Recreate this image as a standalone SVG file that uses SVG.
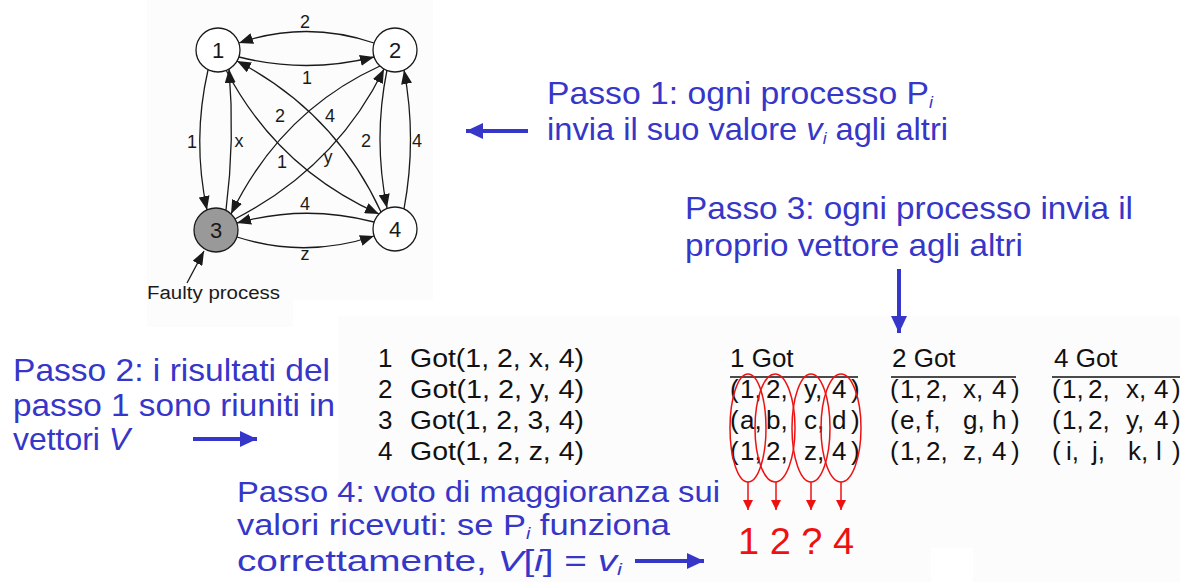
<svg xmlns="http://www.w3.org/2000/svg" width="1180" height="582" viewBox="0 0 1180 582">
  <style>
    .note { font-family: "Liberation Sans", Arial, sans-serif; font-size: 32px; fill: #3636c8; }
    .wide { font-size: 30px; }
    .sub { font-size: 17px; font-style: italic; }
    .it { font-style: italic; }
    .tbl { font-family: "Liberation Sans", Arial, sans-serif; font-size: 26px; fill: #111; }
    .glabel { font-family: "Liberation Sans", Arial, sans-serif; font-size: 18px; fill: #1a1a1a; text-anchor: middle; }
    .nlabel { font-family: "Liberation Sans", Arial, sans-serif; font-size: 22px; fill: #1a1a1a; text-anchor: middle; }
    .node { stroke: #1a1a1a; stroke-width: 1.3; fill: #fff; }
    .edge { fill: none; stroke: #1a1a1a; stroke-width: 1.3; marker-end: url(#ah); }
    .blue { stroke: #3636c8; stroke-width: 4; fill: none; marker-end: url(#bh); }
    .red { stroke: #ee1111; stroke-width: 1.5; fill: none; }
    .redarr { stroke: #ee1111; stroke-width: 1.5; marker-end: url(#rh); }
  </style>
  <defs>
    <marker id="ah" markerUnits="userSpaceOnUse" markerWidth="15" markerHeight="11" refX="14" refY="5.5" orient="auto">
      <path d="M0,0 L14,5.5 L0,11 Z" fill="#1a1a1a"/>
    </marker>
    <marker id="bh" markerUnits="userSpaceOnUse" markerWidth="18" markerHeight="16" refX="17" refY="8" orient="auto">
      <path d="M0,0 L17,8 L0,16 Z" fill="#3636c8"/>
    </marker>
    <marker id="rh" markerUnits="userSpaceOnUse" markerWidth="10" markerHeight="10" refX="10" refY="5" orient="auto">
      <path d="M0,0 L10,5 L0,10 Z" fill="#ee1111"/>
    </marker>
  </defs>

  <!-- page background with the lightly tinted figure panels -->
  <rect x="0" y="0" width="1180" height="582" fill="#ffffff"/>
  <path d="M147,0 H433 V300 H293 V327 H147 Z" fill="#fcfcfc"/>
  <path d="M338,316 H1180 V582 H973 V548 H931 V582 H338 Z" fill="#fcfcfc"/>

  <!-- message graph: connectors -->
  <g id="connectors">
    <path class="edge" d="M374,43 Q306,20 239,43"/>
    <path class="edge" d="M239,57 Q306,74 374,57"/>
    <path class="edge" d="M208,70 Q192,140 207,210"/>
    <path class="edge" d="M226,210 Q235,140 229,69"/>
    <path class="edge" d="M387,70 Q373,139 387,208"/>
    <path class="edge" d="M404,209 Q417,139 404,70"/>
    <path class="edge" d="M374,222 Q305,204 237,223"/>
    <path class="edge" d="M237,237 Q305,259 374,236"/>
    <path class="edge" d="M226,70 Q277,168 379,214"/>
    <path class="edge" d="M381,212 Q335,112 237,61"/>
    <path class="edge" d="M380,66 Q281,111 231,214"/>
    <path class="edge" d="M235,219 Q336,167 384,69"/>
    <path class="edge" d="M187,283 L204,251"/>
  </g>

  <g id="edge-labels">
    <text class="glabel" x="305" y="28">2</text>
    <text class="glabel" x="307" y="84">1</text>
    <text class="glabel" x="192" y="148">1</text>
    <text class="glabel" x="239" y="147">x</text>
    <text class="glabel" x="280" y="122">2</text>
    <text class="glabel" x="330" y="122">4</text>
    <text class="glabel" x="282" y="168">1</text>
    <text class="glabel" x="328" y="163">y</text>
    <text class="glabel" x="366" y="147">2</text>
    <text class="glabel" x="417" y="147">4</text>
    <text class="glabel" x="305" y="210">4</text>
    <text class="glabel" x="305" y="260">z</text>
  </g>

  <g id="node-1">
    <circle class="node" cx="218" cy="50" r="22"/>
    <text class="nlabel" x="218" y="58">1</text>
  </g>
  <g id="node-2">
    <circle class="node" cx="395" cy="50" r="22"/>
    <text class="nlabel" x="395" y="58">2</text>
  </g>
  <g id="node-3">
    <circle class="node" cx="216" cy="230" r="22" style="fill:#999999"/>
    <text class="nlabel" x="216" y="238">3</text>
  </g>
  <g id="node-4">
    <circle class="node" cx="395" cy="229" r="22"/>
    <text class="nlabel" x="395" y="237">4</text>
  </g>
  <g id="faulty-label">
    <text x="147" y="299" textLength="133" lengthAdjust="spacingAndGlyphs" style="font-family:'Liberation Sans',Arial,sans-serif;font-size:18px;fill:#1a1a1a">Faulty process</text>
  </g>

  <!-- step notes -->
  <g id="step-1">
    <text class="note" x="547" y="104" textLength="386" lengthAdjust="spacingAndGlyphs">Passo 1: ogni processo P<tspan class="sub" dy="4">i</tspan></text>
    <text class="note" x="547" y="140" textLength="401" lengthAdjust="spacingAndGlyphs">invia il suo valore <tspan class="it">v</tspan><tspan class="sub" dy="4">i</tspan><tspan dy="-4"> agli altri</tspan></text>
    <line class="blue" x1="528" y1="131" x2="466" y2="131"/>
  </g>
  <g id="step-2">
    <text class="note" x="13" y="381" textLength="317" lengthAdjust="spacingAndGlyphs">Passo 2: i risultati del</text>
    <text class="note" x="13" y="416" textLength="322" lengthAdjust="spacingAndGlyphs">passo 1 sono riuniti in</text>
    <text class="note" x="13" y="450" textLength="117" lengthAdjust="spacingAndGlyphs">vettori <tspan class="it">V</tspan></text>
    <line class="blue" x1="193" y1="439" x2="257" y2="439"/>
  </g>
  <g id="step-3">
    <text class="note" x="685" y="219" textLength="448" lengthAdjust="spacingAndGlyphs">Passo 3: ogni processo invia il</text>
    <text class="note" x="685" y="256" textLength="338" lengthAdjust="spacingAndGlyphs">proprio vettore agli altri</text>
    <line class="blue" x1="899" y1="269" x2="899" y2="333"/>
  </g>
  <g id="step-4">
    <text class="note wide" x="237" y="502" textLength="483" lengthAdjust="spacingAndGlyphs">Passo 4: voto di maggioranza sui</text>
    <text class="note wide" x="237" y="535" textLength="433" lengthAdjust="spacingAndGlyphs">valori ricevuti: se P<tspan class="sub" dy="4">i</tspan><tspan dy="-4"> funziona</tspan></text>
    <text class="note wide" x="237" y="571" textLength="385" lengthAdjust="spacingAndGlyphs">correttamente,  <tspan class="it">V</tspan>[<tspan class="it">i</tspan>] = <tspan class="it">v</tspan><tspan class="sub" dy="4">i</tspan></text>
    <line class="blue" x1="635" y1="561" x2="704" y2="561"/>
  </g>

  <!-- vectors collected by each process -->
  <g id="got-list" class="tbl">
    <text x="378" y="367">1</text><text x="410" y="367" textLength="174" lengthAdjust="spacingAndGlyphs">Got(1, 2, x, 4)</text>
    <text x="378" y="398">2</text><text x="410" y="398" textLength="174" lengthAdjust="spacingAndGlyphs">Got(1, 2, y, 4)</text>
    <text x="378" y="429">3</text><text x="410" y="429" textLength="174" lengthAdjust="spacingAndGlyphs">Got(1, 2, 3, 4)</text>
    <text x="378" y="460">4</text><text x="410" y="460" textLength="174" lengthAdjust="spacingAndGlyphs">Got(1, 2, z, 4)</text>
  </g>

  <g id="got-1" class="tbl">
    <text x="730" y="367">1 Got</text>
    <line x1="730" y1="377" x2="858" y2="377" stroke="#111" stroke-width="1.5"/>
    <text y="398"><tspan x="730">(</tspan><tspan x="740">1,</tspan><tspan x="766">2,</tspan><tspan x="804">y,</tspan><tspan x="832">4</tspan><tspan x="851">)</tspan></text>
    <text y="429"><tspan x="730">(</tspan><tspan x="740">a,</tspan><tspan x="766">b,</tspan><tspan x="804">c,</tspan><tspan x="832">d</tspan><tspan x="851">)</tspan></text>
    <text y="460"><tspan x="730">(</tspan><tspan x="740">1,</tspan><tspan x="766">2,</tspan><tspan x="804">z,</tspan><tspan x="832">4</tspan><tspan x="851">)</tspan></text>
  </g>
  <g id="got-2" class="tbl">
    <text x="892" y="367">2 Got</text>
    <line x1="891" y1="377" x2="1016" y2="377" stroke="#111" stroke-width="1.5"/>
    <text y="398"><tspan x="890">(</tspan><tspan x="900">1,</tspan><tspan x="926">2,</tspan><tspan x="963">x,</tspan><tspan x="992">4</tspan><tspan x="1011">)</tspan></text>
    <text y="429"><tspan x="890">(</tspan><tspan x="900">e,</tspan><tspan x="926">f,</tspan><tspan x="963">g,</tspan><tspan x="992">h</tspan><tspan x="1011">)</tspan></text>
    <text y="460"><tspan x="890">(</tspan><tspan x="900">1,</tspan><tspan x="926">2,</tspan><tspan x="963">z,</tspan><tspan x="992">4</tspan><tspan x="1011">)</tspan></text>
  </g>
  <g id="got-4" class="tbl">
    <text x="1054" y="367">4 Got</text>
    <line x1="1052" y1="377" x2="1180" y2="377" stroke="#111" stroke-width="1.5"/>
    <text y="398"><tspan x="1052">(</tspan><tspan x="1062">1,</tspan><tspan x="1088">2,</tspan><tspan x="1126">x,</tspan><tspan x="1154">4</tspan><tspan x="1172">)</tspan></text>
    <text y="429"><tspan x="1052">(</tspan><tspan x="1062">1,</tspan><tspan x="1088">2,</tspan><tspan x="1126">y,</tspan><tspan x="1154">4</tspan><tspan x="1172">)</tspan></text>
    <text y="460"><tspan x="1052">(</tspan><tspan x="1066">i,</tspan><tspan x="1092">j,</tspan><tspan x="1128">k,</tspan><tspan x="1156">l</tspan><tspan x="1172">)</tspan></text>
  </g>

  <!-- majority vote per column -->
  <g id="vote">
    <ellipse class="red" cx="748" cy="428" rx="18" ry="54"/>
    <ellipse class="red" cx="775" cy="428" rx="20" ry="54"/>
    <ellipse class="red" cx="811" cy="428" rx="19" ry="54"/>
    <ellipse class="red" cx="841" cy="428" rx="20" ry="54"/>
    <line class="redarr" x1="748" y1="482" x2="748" y2="510"/>
    <line class="redarr" x1="776" y1="482" x2="776" y2="510"/>
    <line class="redarr" x1="811" y1="482" x2="811" y2="510"/>
    <line class="redarr" x1="841" y1="482" x2="841" y2="510"/>
    <text x="738" y="554" textLength="116" lengthAdjust="spacingAndGlyphs" style="font-family:'Liberation Sans',Arial,sans-serif;font-size:36px;fill:#ee1111">1 2 ? 4</text>
  </g>
</svg>
